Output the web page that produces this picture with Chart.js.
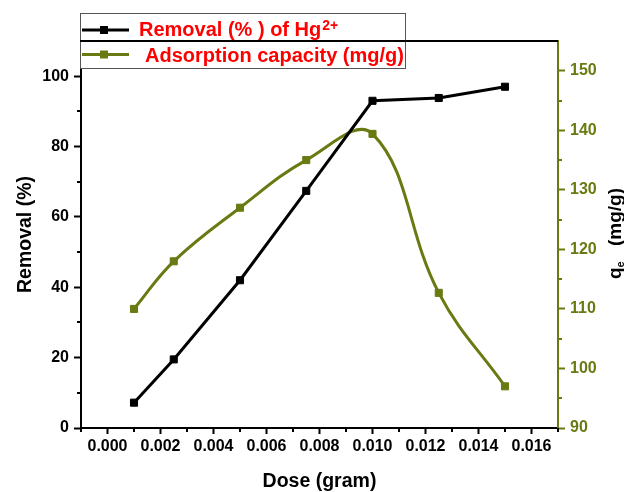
<!DOCTYPE html>
<html>
<head>
<meta charset="utf-8">
<title>Dose effect on Hg2+ removal</title>
<script src="https://cdn.jsdelivr.net/npm/chart.js@4.4.1/dist/chart.umd.min.js"></script>
<style>
  html, body { margin: 0; padding: 0; background: #fff; }
  canvas { display: block; }
</style>
</head>
<body>
<canvas id="chart" width="624" height="492"></canvas>
<script>
// ── Data ──────────────────────────────────────────────────────────────────────
const doses = [0.001, 0.0025, 0.005, 0.0075, 0.010, 0.0125, 0.015];
const removalPct = [7.2, 19.5, 42.0, 67.4, 93.0, 93.8, 97.0];
const capacity = [110.0, 118.0, 127.0, 135.0, 139.4, 112.7, 97.0];

const xTicks = [0, 0.002, 0.004, 0.006, 0.008, 0.010, 0.012, 0.014, 0.016];
const xMinor = [-0.001, 0.001, 0.003, 0.005, 0.007, 0.009, 0.011, 0.013, 0.015, 0.017];
const leftTicks = [0, 20, 40, 60, 80, 100];
const leftMinor = [10, 30, 50, 70, 90];
const rightTicks = [90, 100, 110, 120, 130, 140, 150];
const rightMinor = [95, 105, 115, 125, 135, 145];

// ── Style ─────────────────────────────────────────────────────────────────────
const FONT = "'Liberation Sans', Arial, sans-serif";
const OLIVE = '#6a7a12';
const BLACK = '#000000';
const LEGEND_RED = '#ff0000';
const TICK_FONT = { family: FONT, size: 16, weight: 'bold' };

const toXY = (xs, ys) => xs.map((x, i) => ({ x, y: ys[i] }));
const fixTicks = (list) => (scale) => { scale.ticks = list.map(v => ({ value: v })); };

// minor ticks, legend box, frame top line and axis titles
const decorations = {
  id: 'decorations',
  afterDraw(chart) {
    const ctx = chart.ctx;
    const { x, y, y2 } = chart.scales;
    const area = chart.chartArea;

    ctx.save();
    ctx.lineWidth = 2;

    // minor ticks
    ctx.strokeStyle = BLACK;
    xMinor.forEach(v => {
      const px = Math.round(x.getPixelForValue(v));
      ctx.beginPath(); ctx.moveTo(px, area.bottom); ctx.lineTo(px, area.bottom + 4); ctx.stroke();
    });
    leftMinor.forEach(v => {
      const py = Math.round(y.getPixelForValue(v));
      ctx.beginPath(); ctx.moveTo(area.left, py); ctx.lineTo(area.left - 4, py); ctx.stroke();
    });
    ctx.strokeStyle = OLIVE;
    rightMinor.forEach(v => {
      const py = Math.round(y2.getPixelForValue(v));
      ctx.beginPath(); ctx.moveTo(area.right, py); ctx.lineTo(area.right + 4, py); ctx.stroke();
    });

    // legend box
    ctx.fillStyle = '#fff';
    ctx.fillRect(80, 13, 325, 55);
    ctx.lineWidth = 1;
    ctx.strokeStyle = '#555';
    ctx.strokeRect(80.5, 13.5, 325, 55);

    const rows = [
      { y: 30, color: BLACK, baseline: 36, x: 139 },
      { y: 54.5, color: OLIVE, baseline: 61.5, x: 145 },
    ];
    rows.forEach(r => {
      ctx.strokeStyle = r.color;
      ctx.lineWidth = 3;
      ctx.beginPath(); ctx.moveTo(82, r.y); ctx.lineTo(129, r.y); ctx.stroke();
      ctx.fillStyle = r.color;
      ctx.fillRect(100, r.y - 4, 8, 8);
    });

    ctx.fillStyle = LEGEND_RED;
    ctx.textAlign = 'left';
    ctx.textBaseline = 'alphabetic';
    ctx.font = `bold 20px ${FONT}`;
    const t1 = 'Removal (% ) of Hg';
    ctx.fillText(t1, rows[0].x, rows[0].baseline);
    const w1 = ctx.measureText(t1).width;
    ctx.font = `bold 14px ${FONT}`;
    ctx.fillText('2+', rows[0].x + w1 + 1, 30);
    ctx.font = `bold 20px ${FONT}`;
    ctx.fillText('Adsorption capacity (mg/g)', rows[1].x, rows[1].baseline);

    // top frame line
    ctx.strokeStyle = BLACK;
    ctx.lineWidth = 2;
    ctx.beginPath(); ctx.moveTo(80, area.top); ctx.lineTo(area.right, area.top); ctx.stroke();

    // axis titles
    ctx.fillStyle = BLACK;
    ctx.font = `bold 19.5px ${FONT}`;
    ctx.textAlign = 'center';
    ctx.fillText('Dose (gram)', (area.left + area.right) / 2, 487);

    ctx.save();
    ctx.translate(31, (area.top + area.bottom) / 2);
    ctx.rotate(-Math.PI / 2);
    ctx.fillText('Removal (%)', 0, 0);
    ctx.restore();

    ctx.save();
    ctx.translate(621, 0);
    ctx.rotate(-Math.PI / 2);
    ctx.textAlign = 'left';
    ctx.font = `bold 19px ${FONT}`;
    ctx.fillText('q', -279, 0);
    const qw = ctx.measureText('q').width;
    ctx.font = `bold 11px ${FONT}`;
    ctx.fillText('e', -279 + qw, 3);
    ctx.font = `bold 19px ${FONT}`;
    ctx.textAlign = 'right';
    ctx.fillText('(mg/g)', -188, 0);
    ctx.restore();

    ctx.restore();
  },
};

new Chart(document.getElementById('chart'), {
  type: 'line',
  data: {
    datasets: [
      {
        label: 'Removal (% ) of Hg2+',
        data: toXY(doses, removalPct),
        yAxisID: 'y',
        borderColor: BLACK,
        backgroundColor: BLACK,
        borderWidth: 3,
        pointStyle: 'rect',
        pointRadius: 5,
        pointBorderWidth: 1,
        tension: 0,
        order: 0,
      },
      {
        label: 'Adsorption capacity (mg/g)',
        data: toXY(doses, capacity),
        yAxisID: 'y2',
        borderColor: OLIVE,
        backgroundColor: OLIVE,
        borderWidth: 3,
        pointStyle: 'rect',
        pointRadius: 5,
        pointBorderWidth: 1,
        tension: 0.4,
        order: 1,
      },
    ],
  },
  options: {
    responsive: false,
    animation: false,
    devicePixelRatio: 1,
    layout: { padding: { top: 41, left: 0, right: 0, bottom: 0 } },
    plugins: { legend: { display: false }, tooltip: { enabled: false } },
    scales: {
      x: {
        type: 'linear',
        min: -0.001,
        max: 0.017,
        afterBuildTicks: fixTicks(xTicks),
        afterFit: (s) => { s.height = 64; },
        border: { display: true, color: BLACK, width: 2 },
        grid: { drawOnChartArea: false, drawTicks: true, tickLength: 6, tickWidth: 2, tickColor: BLACK },
        ticks: {
          color: BLACK, font: TICK_FONT, padding: 3, maxRotation: 0, autoSkip: false,
          callback: (v) => v.toFixed(3),
        },
      },
      y: {
        type: 'linear',
        position: 'left',
        min: 0,
        max: 110,
        afterBuildTicks: fixTicks(leftTicks),
        afterFit: (s) => { s.width = 81; },
        border: { display: true, color: BLACK, width: 2 },
        grid: { drawOnChartArea: false, drawTicks: true, tickLength: 7, tickWidth: 2, tickColor: BLACK },
        ticks: { color: BLACK, font: TICK_FONT, padding: 5 },
      },
      y2: {
        type: 'linear',
        position: 'right',
        min: 90,
        max: 155,
        afterBuildTicks: fixTicks(rightTicks),
        afterFit: (s) => { s.width = 66; },
        border: { display: true, color: OLIVE, width: 2 },
        grid: { drawOnChartArea: false, drawTicks: true, tickLength: 7, tickWidth: 2, tickColor: OLIVE },
        ticks: { color: OLIVE, font: TICK_FONT, padding: 5 },
      },
    },
  },
  plugins: [decorations],
});
</script>
</body>
</html>
